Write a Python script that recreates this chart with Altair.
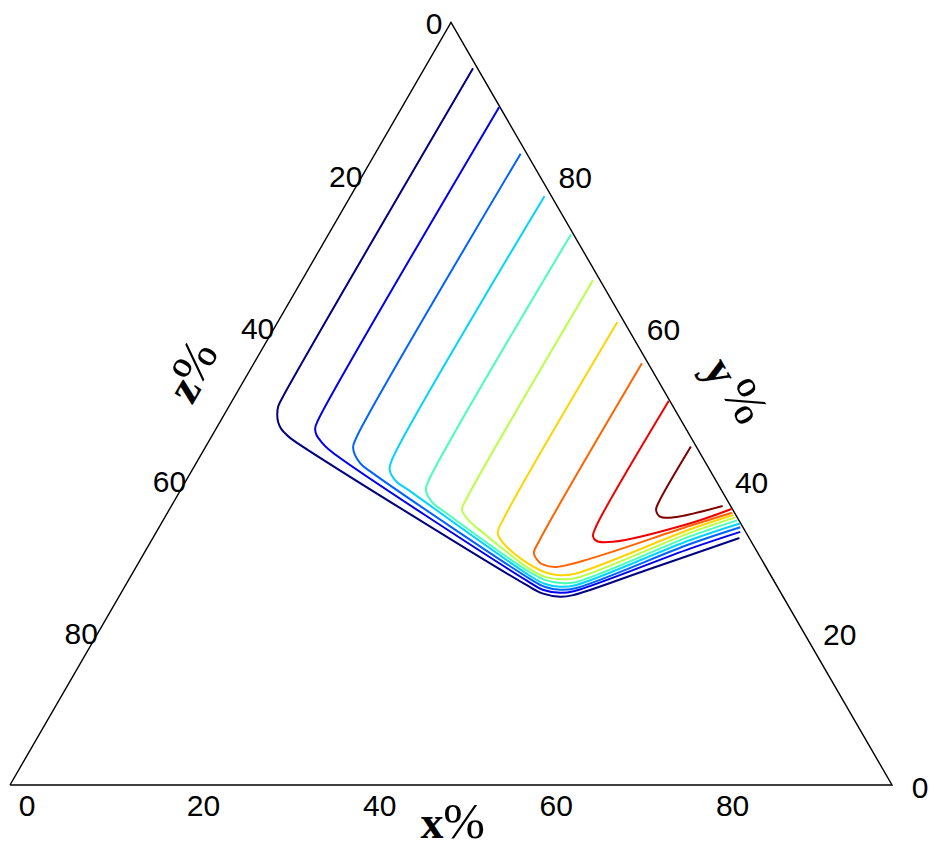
import altair as alt
import pandas as pd

# ---------------- data (ternary coordinates, x % and y %, z = 100 - x - y) -------------
levels = [1, 2, 3, 4, 5, 6, 7, 8, 9, 10]
colors = ["#000080", "#0000f1", "#0063ff", "#00d4ff", "#47ffb8",
          "#b8ff47", "#ffd400", "#ff6300", "#f10000", "#800000"]

c1_x = [5.5, 5.5, 5.6, 6.0, 6.6, 7.4, 8.3, 9.2, 45.5, 47.9, 50.0, 51.4, 58.1, 66.5]
c1_y = [94.0, 50.5, 49.6, 48.6, 47.6, 46.7, 46.0, 45.4, 26.2, 25.1, 24.7, 24.9, 28.2, 32.4]
c2_x = [11.0, 11.0, 11.2, 11.8, 12.8, 14.3, 45.2, 47.6, 49.8, 51.2, 61.6, 66.2]
c2_y = [88.9, 47.9, 46.8, 45.9, 45.0, 43.9, 26.8, 25.6, 25.2, 25.4, 31.0, 33.2]
c3_x = [16.5, 16.5, 16.8, 18.6, 20.5, 45.5, 47.6, 49.6, 51.2, 61.3, 65.9]
c3_y = [82.8, 45.5, 44.2, 42.2, 41.0, 27.0, 26.0, 25.6, 25.8, 31.6, 33.8]
c4_x = [22.0, 22.0, 22.4, 23.9, 25.8, 45.3, 47.4, 49.4, 51.0, 61.0, 65.6]
c4_y = [77.2, 42.5, 41.3, 39.8, 38.7, 27.4, 26.4, 26.0, 26.2, 32.1, 34.3]
c5_x = [27.5, 27.5, 27.8, 29.3, 31.4, 45.0, 47.2, 49.1, 50.8, 60.8, 65.1]
c5_y = [72.2, 40.0, 38.7, 37.1, 35.8, 27.9, 26.9, 26.5, 26.6, 32.6, 34.7]
c6_x = [33.0, 33.0, 33.2, 34.8, 36.9, 44.8, 47.0, 48.9, 50.5, 60.6, 64.7]
c6_y = [66.2, 37.5, 36.1, 34.6, 33.2, 28.3, 27.3, 27.0, 27.1, 33.1, 35.1]
c7_x = [38.5, 38.5, 38.8, 40.1, 43.4, 47.0, 48.6, 50.2, 60.3, 64.3]
c7_y = [60.7, 35.0, 33.0, 31.7, 29.5, 27.8, 27.5, 27.7, 33.5, 35.4]
c8_x = [44.0, 44.0, 44.2, 45.3, 46.0, 47.7, 60.1, 64.0]
c8_y = [55.3, 32.0, 30.4, 29.3, 28.9, 28.6, 34.0, 35.7]
c9_x = [49.5, 49.5, 49.8, 50.5, 52.4, 59.9, 63.7]
c9_y = [50.4, 33.9, 32.6, 32.0, 31.9, 34.3, 36.2]
c10_x = [55.0, 55.0, 55.2, 56.1, 57.7, 62.5]
c10_y = [44.4, 37.2, 36.1, 35.2, 35.1, 36.6]

contour_x = [c1_x, c2_x, c3_x, c4_x, c5_x, c6_x, c7_x, c8_x, c9_x, c10_x]
contour_y = [c1_y, c2_y, c3_y, c4_y, c5_y, c6_y, c7_y, c8_y, c9_y, c10_y]

tick_values = [0, 20, 40, 60, 80]
tick_labels = ["0", "20", "40", "60", "80"]

# triangle corners: bottom-left (z=100), bottom-right (x=100), top (y=100)
vertices_x = [0, 100, 0, 0]
vertices_y = [0, 0, 100, 0]

# ---------------- tables -------------
rows = []
for lev, xs_, ys_ in zip(levels, contour_x, contour_y):
    for i, (a, b) in enumerate(zip(xs_, ys_)):
        rows.append({"level": lev, "i": i, "xp": a, "yp": b})
cont_df = pd.DataFrame(rows)

tri_df = pd.DataFrame({"i": list(range(len(vertices_x))), "xp": vertices_x, "yp": vertices_y})

bottom_df = pd.DataFrame({"xp": tick_values, "yp": [0] * len(tick_values), "label": tick_labels})
right_df = pd.DataFrame({"xp": [100 - t for t in tick_values], "yp": tick_values, "label": tick_labels})
left_df = pd.DataFrame({"xp": [0] * len(tick_values), "yp": [100 - t for t in tick_values], "label": tick_labels})
right_corner_df = right_df.iloc[:1]
right_rest_df = right_df.iloc[1:]


def mid(a, b):
    return {"xp": (vertices_x[a] + vertices_x[b]) / 2, "yp": (vertices_y[a] + vertices_y[b]) / 2}


mid_bottom = pd.DataFrame([mid(0, 1)])
mid_right = pd.DataFrame([mid(1, 2)])
mid_left = pd.DataFrame([mid(2, 0)])

# ---------------- chart -------------
W, H = 921, 834
xscale = alt.Scale(domain=[-0.2268, 104.195], nice=False, zero=False)
yscale = alt.Scale(domain=[-7.475, 101.902], nice=False, zero=False)
X = alt.X("u:Q", scale=xscale, axis=None)
Y = alt.Y("v:Q", scale=yscale, axis=None)


def base(df):
    return alt.Chart(df).transform_calculate(u="datum.xp + datum.yp / 2", v="datum.yp")


tri = base(tri_df).mark_line(color="black", strokeWidth=1.4).encode(x=X, y=Y, order="i:Q")

contours = base(cont_df).mark_line(strokeWidth=2, interpolate="catmull-rom").encode(
    x=X, y=Y,
    color=alt.Color("level:O", scale=alt.Scale(domain=levels, range=colors), legend=None),
    order="i:Q",
)

TF = "Liberation Sans"
TS = 30


def ticks(df, dx, dy):
    return base(df).mark_text(font=TF, fontSize=TS, align="center", baseline="middle",
                              dx=dx, dy=dy, color="black").encode(x=X, y=Y, text="label:N")


bl = ticks(bottom_df, 17, 21.5)
rl = ticks(right_rest_df, 36, 3.5)
rl0 = ticks(right_corner_df, 28, 3.5)
ll = ticks(left_df, -17, 2.5)

SF = "Liberation Serif"


def glyph(df, txt, bold, size, dx, dy, angle=0, baseline="middle"):
    d = df.copy()
    d["t"] = txt
    kw = dict(font=SF, fontSize=size, align="center", baseline=baseline, dx=dx, dy=dy, color="black")
    if bold:
        kw["fontWeight"] = "bold"
    if angle:
        kw["angle"] = angle
    return base(d).mark_text(**kw).encode(x=X, y=Y, text="t:N")


x_t = glyph(mid_bottom, "x", True, 46, -19, 53, baseline="alphabetic")
xp_t = glyph(mid_bottom, "%", False, 50, 13, 53, baseline="alphabetic")
y_t = glyph(mid_right, "y", True, 46, -3.2, -57.8, angle=60)
yp_t = glyph(mid_right, "%", False, 50, 34.7, -63.7, angle=60)
z_t = glyph(mid_left, "z", True, 46, -10.8, -46.3, angle=300)
zp_t = glyph(mid_left, "%", False, 50, 18, -50.3, angle=300)

chart = alt.layer(tri, contours, bl, rl, rl0, ll, x_t, xp_t, y_t, yp_t, z_t, zp_t).properties(
    width=W, height=H, padding=0,
    autosize=alt.AutoSizeParams(type="none"),
).configure_view(stroke=None)

chart.save("out.html", embed_options={"renderer": "svg", "actions": False})
